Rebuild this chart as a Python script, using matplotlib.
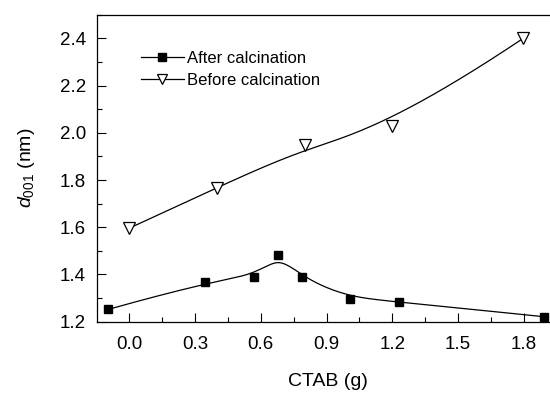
import numpy as np
import matplotlib
matplotlib.use("Agg")
from matplotlib import pyplot as plt
from matplotlib.ticker import MultipleLocator

plt.rcParams['font.family'] = ['Liberation Sans', 'DejaVu Sans']
plt.rcParams['mathtext.fontset'] = 'custom'
plt.rcParams['mathtext.rm'] = 'Liberation Sans'
plt.rcParams['mathtext.it'] = 'Liberation Sans:italic'

# data
after_x = [-0.096, 0.345, 0.569, 0.679, 0.789, 1.009, 1.230, 1.891]
after_y = [1.252, 1.367, 1.388, 1.481, 1.389, 1.295, 1.285, 1.221]
before_x = [0.0, 0.398, 0.800, 1.199, 1.797]
before_y = [1.596, 1.765, 1.949, 2.029, 2.400]
xticks = [0.0, 0.3, 0.6, 0.9, 1.2, 1.5, 1.8]
yticks = [1.2, 1.4, 1.6, 1.8, 2.0, 2.2, 2.4]


def bspline(px, py, n=400, k=3):
    # clamped cubic B-spline with the data points as control points
    px = np.asarray(px); py = np.asarray(py)
    m = len(px)
    knots = np.concatenate([np.zeros(k), np.linspace(0, 1, m - k + 1), np.ones(k)])
    t = np.linspace(0, 1 - 1e-9, n)

    def basis(i, d):
        if d == 0:
            return ((knots[i] <= t) & (t < knots[i + 1])).astype(float)
        out = np.zeros_like(t)
        den1 = knots[i + d] - knots[i]
        den2 = knots[i + d + 1] - knots[i + 1]
        if den1 > 0:
            out += (t - knots[i]) / den1 * basis(i, d - 1)
        if den2 > 0:
            out += (knots[i + d + 1] - t) / den2 * basis(i + 1, d - 1)
        return out

    B = np.array([basis(i, k) for i in range(m)])
    return B.T @ px, B.T @ py


fig = plt.figure(figsize=(5.5, 3.93), dpi=100)
ax = fig.add_axes([97 / 550, 71.3 / 393, 462 / 550, 307 / 393])

sx, sy = bspline(after_x, after_y)
ax.plot(sx, sy, color='black', lw=0.9)
sx, sy = bspline(before_x, before_y)
ax.plot(sx, sy, color='black', lw=0.9)

ax.plot(after_x, after_y, ls='none', marker='s', ms=6.3, color='black')
ax.plot(before_x, before_y, ls='none', marker='v', ms=8.5, mfc='white', mec='black', mew=0.9)

# legend handles
ax.plot([], [], color='black', lw=0.9, marker='s', ms=5.5, label='After calcination')
ax.plot([], [], color='black', lw=0.9, marker='v', ms=7.5, mfc='white', mew=0.9,
        label='Before calcination')
ax.legend(loc='upper left', bbox_to_anchor=(0.062, 0.93), frameon=False, fontsize=12,
          handlelength=2.6, handletextpad=0.2, labelspacing=0.4)

ax.set_xlim(-0.147, 1.96)
ax.set_ylim(1.2, 2.5)
ax.set_xticks(xticks)
ax.set_yticks(yticks)
ax.xaxis.set_minor_locator(MultipleLocator(0.15))
ax.yaxis.set_minor_locator(MultipleLocator(0.1))
ax.tick_params(which='both', direction='in', top=False, right=False, labelsize=13.5)
ax.tick_params(which='major', length=6.5, width=0.8)
ax.tick_params(which='minor', length=3.6, width=0.8)
ax.tick_params(axis='x', which='major', pad=10.5)
ax.tick_params(axis='y', which='major', pad=8)
ax.set_xticklabels([f'{v:.1f}' for v in xticks])
ax.set_yticklabels([f'{v:.1f}' for v in yticks])
ax.spines['right'].set_visible(False)
for s in ['left', 'bottom', 'top']:
    ax.spines[s].set_linewidth(0.9)

ax.set_xlabel('CTAB (g)', fontsize=14, labelpad=14.5)
ax.set_ylabel(r'$d_{001}$ (nm)', fontsize=14, labelpad=16)

fig.savefig('out.png', dpi=100)
